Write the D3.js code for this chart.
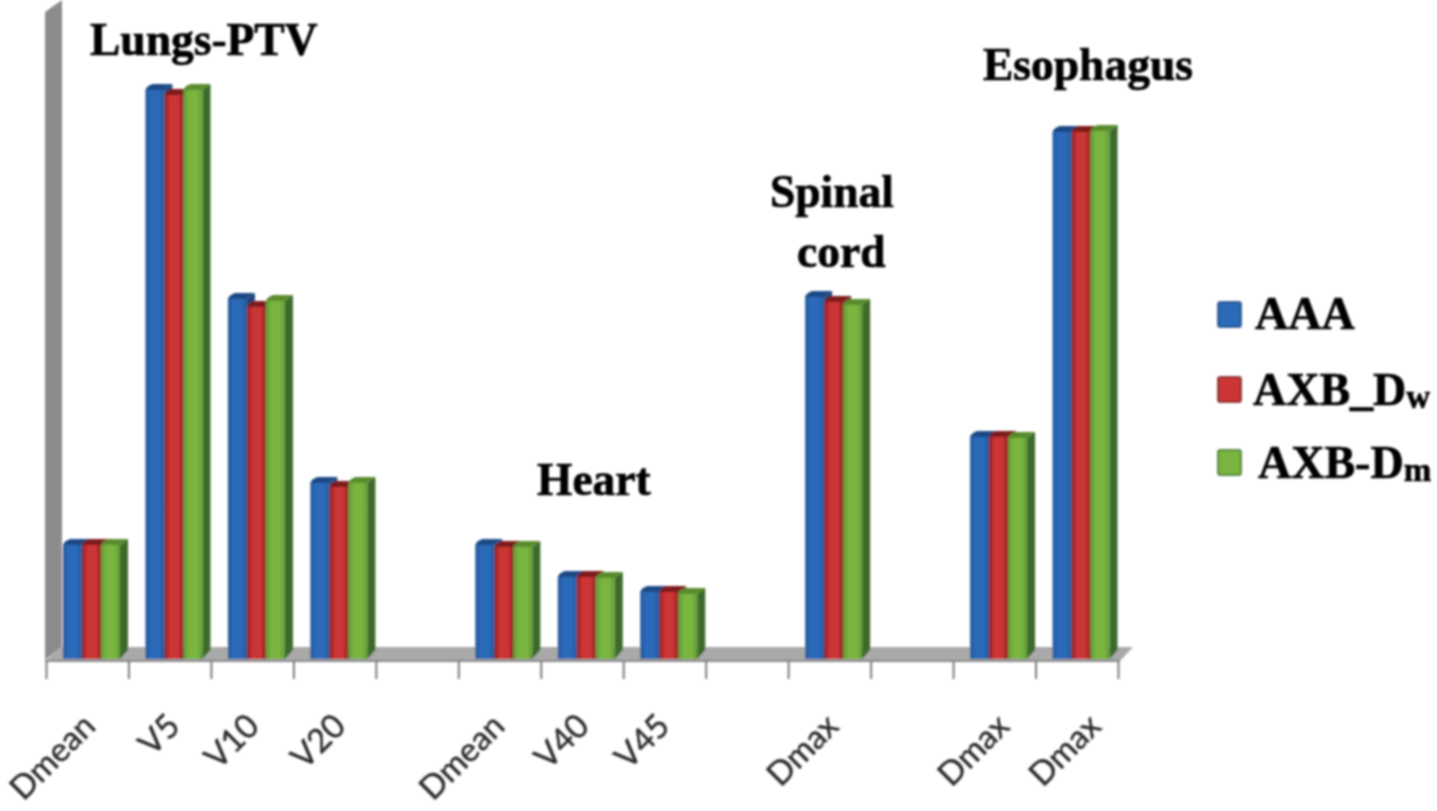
<!DOCTYPE html>
<html>
<head>
<meta charset="utf-8">
<script src="https://cdn.jsdelivr.net/npm/d3@7"></script>
<style>
  html, body { margin: 0; padding: 0; background: #fff; overflow: hidden; }
  .tick-label { font-family: Lato, "Open Sans", sans-serif; font-size: 33px; fill: #2b2b2b; stroke: #2b2b2b; stroke-width: 0.4px; }
  .note { font-family: "Liberation Serif", serif; font-weight: bold; font-size: 45.5px; fill: #000; stroke: #000; stroke-width: 0.7px; }
  .legend-label { font-family: "Liberation Serif", serif; font-weight: bold; font-size: 46px; fill: #000; stroke: #000; stroke-width: 0.7px; }
</style>
</head>
<body>
<svg id="chart" width="1437" height="811"></svg>
<script>
// one slot per column, the empty ones are the gaps between the organ groups
var categories = ["Dmean", "V5", "V10", "V20", "", "Dmean", "V40", "V45", "", "Dmax", "", "Dmax", "Dmax"];
var labelNudge = [-4, -2, -5, -1, 0, -7, -5, -7, 0, -3, 0, 3, 12];
var seriesNames = ["AAA", "AXB_D", "AXB-D"];
var seriesSubs = ["", "w", "m"];
var aaa   = [11.3, 56.8, 35.9, 17.5, null, 11.3, 8.1, 6.6, null, 36.1, null, 22.1, 52.6];
var axbDw = [11.3, 56.3, 35.1, 17.1, null, 11.1, 8.1, 6.6, null, 35.6, null, 22.1, 52.6];
var axbDm = [11.3, 56.8, 35.7, 17.5, null, 11.1, 8.0, 6.4, null, 35.3, null, 22.0, 52.7];
var seriesValues = [aaa, axbDw, axbDm];

var frontColors = ["#2a6ab8", "#cc3434", "#7ab53f"];
var edgeColors  = ["#25599c", "#8e2224", "#5f9a38"];
var topColors   = ["#1c4a86", "#7d1a1e", "#5a8c2e"];
var sideColors  = ["#1a4478", "#6e1c1e", "#3d6a2a"];

var svg = d3.select("#chart");
var depth = 8;
var rise = 6;
var y0 = 658;

// the reference is a soft, upscaled picture
var defs = svg.append("defs");
defs.append("filter").attr("id", "soft")
  .attr("x", 0).attr("y", 0).attr("width", 1437).attr("height", 811)
  .attr("filterUnits", "userSpaceOnUse")
  .append("feGaussianBlur").attr("stdDeviation", 0.9);

frontColors.forEach(function(c, s) {
  var grad = defs.append("linearGradient").attr("id", "front-" + s);
  grad.append("stop").attr("offset", "0%").attr("stop-color", edgeColors[s]);
  grad.append("stop").attr("offset", "30%").attr("stop-color", c);
  grad.append("stop").attr("offset", "72%").attr("stop-color", c);
  grad.append("stop").attr("offset", "100%").attr("stop-color", edgeColors[s]);
});

var root = svg.append("g").attr("filter", "url(#soft)");

// columns
var x = d3.scaleBand().domain(d3.range(categories.length)).range([46, 1118]);
var xEdge = d3.scaleLinear().domain([0, categories.length]).range([46, 1118]);
var y = d3.scaleLinear().domain([0, 60]).range([y0, y0 - 600]);
var inner = d3.scaleBand().domain(d3.range(3)).range([17, 74]);

// wall and floor
root.append("polygon")
  .attr("points", "45,660 45,12 62,0 62,647")
  .attr("fill", "#8c8c8c");
root.append("polygon")
  .attr("points", "45,661 62,647 1133,647 1120,661")
  .attr("fill", "#a9a9a9");
root.append("line")
  .attr("x1", 45).attr("x2", 1120).attr("y1", 661).attr("y2", 661)
  .attr("stroke", "#8a8a8a").attr("stroke-width", 2);

// tick marks
var axis = d3.axisBottom(xEdge).tickValues(d3.range(categories.length + 1)).tickFormat("").tickSize(18);
var axisG = root.append("g").attr("transform", "translate(0,661)").call(axis);
axisG.select(".domain").remove();
axisG.selectAll(".tick line").attr("stroke", "#7a7a7a").attr("stroke-width", 2);

// bars
seriesValues.forEach(function(values, s) {
  var g = root.append("g").attr("class", "series-" + s);
  var rows = values.map(function(v, i) { return {v: v, i: i}; }).filter(function(d) { return d.v !== null; });

  g.selectAll("path.top").data(rows).join("path")
    .attr("class", "top")
    .attr("fill", topColors[s])
    .attr("d", function(d) {
      var l = x(d.i) + inner(s), r = l + inner.bandwidth(), t = y(d.v);
      return "M" + l + "," + t + "Q" + (l + 1) + "," + (t - 4) + " " + (l + 7) + "," + (t - rise) + "L" + (r + depth) + "," + (t - rise) + "L" + r + "," + t + "Z";
    });

  g.selectAll("path.side").data(rows).join("path")
    .attr("class", "side")
    .attr("fill", sideColors[s])
    .attr("d", function(d) {
      var r = x(d.i) + inner(s) + inner.bandwidth(), t = y(d.v);
      return "M" + r + "," + t + "L" + (r + depth) + "," + (t - rise) + "L" + (r + depth) + "," + (y0 - 8) + "L" + r + "," + (y0 + 1) + "Z";
    });

  g.selectAll("rect.front").data(rows).join("rect")
    .attr("class", "front")
    .attr("fill", "url(#front-" + s + ")")
    .attr("x", function(d) { return x(d.i) + inner(s); })
    .attr("width", inner.bandwidth())
    .attr("y", function(d) { return y(d.v); })
    .attr("height", function(d) { return y0 + 1 - y(d.v); });
});

// category labels
root.selectAll("text.tick-label")
  .data(categories.map(function(c, i) { return {c: c, i: i}; }).filter(function(d) { return d.c !== ""; }))
  .join("text")
  .attr("class", "tick-label")
  .attr("text-anchor", "end")
  .attr("transform", function(d) { return "translate(" + (x(d.i) + x.bandwidth() / 2 + 14 + labelNudge[d.i]) + ",728) rotate(-45)"; })
  .text(function(d) { return d.c; });

// organ names sitting over the groups
var noteText = ["Lungs-PTV", "Heart", "Spinal", "cord", "Esophagus"];
var noteX = [90, 537, 770, 797, 983];
var noteY = [55, 495, 207, 267, 80];
root.selectAll("text.note").data(noteText).join("text")
  .attr("class", "note")
  .attr("x", function(d, i) { return noteX[i]; })
  .attr("y", function(d, i) { return noteY[i]; })
  .text(function(d) { return d; });

// legend
var legendY = [302, 377, 450];
var legendTextX = [1255, 1253, 1258];
var legendTextY = [329, 405, 478];
seriesNames.forEach(function(name, s) {
  root.append("rect")
    .attr("x", 1218).attr("y", legendY[s]).attr("width", 23).attr("height", 25).attr("rx", 2)
    .attr("fill", frontColors[s]).attr("stroke", sideColors[s]).attr("stroke-width", 1.5);
  var t = root.append("text").attr("class", "legend-label").attr("x", legendTextX[s]).attr("y", legendTextY[s]);
  t.append("tspan").text(name);
  if (seriesSubs[s]) t.append("tspan").attr("font-size", 33).attr("dy", 3).text(seriesSubs[s]);
});
</script>
</body>
</html>
